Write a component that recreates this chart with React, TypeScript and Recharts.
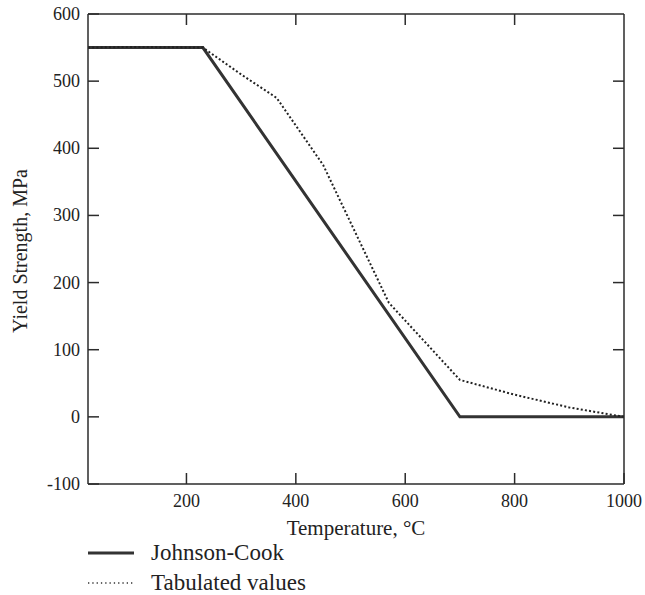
import React from "react";
import { LineChart, Line, XAxis, YAxis, Legend } from "recharts";

const jcTemps = [20, 230, 700, 1000];
const jcYield = [550, 550, 0, 0];

const tabTemps = [20, 100, 230, 300, 365, 450, 570, 700, 800, 900, 1000];
const tabYield = [550, 551, 550, 510, 475, 375, 170, 55, 33, 14, 0];

const xTicks = [200, 400, 600, 800, 1000];
const xTopTicks = [200, 400, 600, 800];
const yTicks = [-100, 0, 100, 200, 300, 400, 500, 600];
const yRightTicks = [100, 200, 300, 400, 500];

const seriesNames = ["Johnson-Cook", "Tabulated values"];

const jcData = jcTemps.map((t, i) => ({ t, y: jcYield[i] }));
const tabData = tabTemps.map((t, i) => ({ t, y: tabYield[i] }));

const FONT = "'Liberation Serif', 'Times New Roman', serif";
const AXIS = "#2b2b2b";
const TEXT = "#222";
const TICK = 11;

const BottomTick = (p: any) => (
  <g>
    <line x1={p.x} x2={p.x} y1={p.y} y2={p.y - TICK} stroke={AXIS} strokeWidth={1.5} />
    <text x={p.x} y={p.y + 23} textAnchor="middle" fontFamily={FONT} fontSize={18} fill={TEXT}>
      {p.payload.value}
    </text>
  </g>
);

const TopTick = (p: any) => (
  <line x1={p.x} x2={p.x} y1={p.y} y2={p.y + TICK} stroke={AXIS} strokeWidth={1.5} />
);

const LeftTick = (p: any) => (
  <g>
    <line x1={p.x} x2={p.x + TICK} y1={p.y} y2={p.y} stroke={AXIS} strokeWidth={1.5} />
    <text x={p.x - 8} y={p.y} textAnchor="end" dominantBaseline="central" fontFamily={FONT} fontSize={18} fill={TEXT}>
      {p.payload.value}
    </text>
  </g>
);

const RightTick = (p: any) => (
  <line x1={p.x} x2={p.x - TICK} y1={p.y} y2={p.y} stroke={AXIS} strokeWidth={1.5} />
);

const LegendContent = () => (
  <div style={{ height: 60, position: "relative", fontFamily: FONT, fontSize: 23, color: TEXT }}>
    <div style={{ position: "absolute", top: 5, left: 0, display: "flex", alignItems: "center", height: 26, whiteSpace: "nowrap" }}>
      <svg width={48} height={10}>
        <line x1={0} x2={46} y1={5} y2={5} stroke="#333" strokeWidth={3} />
      </svg>
      <span style={{ marginLeft: 15, lineHeight: "26px" }}>{seriesNames[0]}</span>
    </div>
    <div style={{ position: "absolute", top: 35, left: 0, display: "flex", alignItems: "center", height: 26, whiteSpace: "nowrap" }}>
      <svg width={48} height={10}>
        <line x1={0} x2={46} y1={5} y2={5} stroke="#333" strokeWidth={1.3} strokeDasharray="1.3 3" />
      </svg>
      <span style={{ marginLeft: 15, lineHeight: "26px" }}>{seriesNames[1]}</span>
    </div>
  </div>
);

const YLabel = (props: any) => {
  const vb = props.viewBox || { x: 8, y: 14, width: 80, height: 470 };
  const cx = 20;
  const cy = vb.y + vb.height / 2 + 2;
  return (
    <text
      x={cx}
      y={cy}
      transform={`rotate(-90 ${cx} ${cy})`}
      textAnchor="middle"
      dominantBaseline="central"
      fontFamily={FONT}
      fontSize={20}
      fill={TEXT}
    >
      Yield Strength, MPa
    </text>
  );
};

export default function App() {
  return (
    <div style={{ width: 645, height: 595, overflow: "hidden" }}>
      <style>{"html,body{margin:0;padding:0;overflow:hidden;}"}</style>
      <LineChart width={645} height={595} margin={{ top: 13, right: 20, left: 8, bottom: 0 }}>
        <XAxis
          xAxisId="b"
          dataKey="t"
          type="number"
          domain={[20, 1000]}
          ticks={xTicks}
          allowDataOverflow
          height={51}
          tickSize={0}
          tickMargin={0}
          tickLine={false}
          stroke={AXIS}
          strokeWidth={1.5}
          tick={<BottomTick />}
          label={{ value: "Temperature, \u00B0C", position: "insideBottom", offset: 0, fontFamily: FONT, fontSize: 21, fill: TEXT }}
        />
        <XAxis
          xAxisId="t"
          orientation="top"
          dataKey="t"
          type="number"
          domain={[20, 1000]}
          ticks={xTopTicks}
          allowDataOverflow
          height={1}
          tickSize={0}
          tickMargin={0}
          tickLine={false}
          tick={<TopTick />}
          stroke={AXIS}
          strokeWidth={1.5}
        />
        <YAxis
          yAxisId="l"
          type="number"
          domain={[-100, 600]}
          ticks={yTicks}
          allowDataOverflow
          width={80}
          tickSize={0}
          tickMargin={0}
          tickLine={false}
          stroke={AXIS}
          strokeWidth={1.5}
          tick={<LeftTick />}
          label={<YLabel />}
        />
        <YAxis
          yAxisId="r"
          orientation="right"
          type="number"
          domain={[-100, 600]}
          ticks={yRightTicks}
          allowDataOverflow
          width={1}
          tickSize={0}
          tickMargin={0}
          tickLine={false}
          tick={<RightTick />}
          stroke={AXIS}
          strokeWidth={1.5}
        />
        <Line
          xAxisId="b"
          yAxisId="l"
          data={jcData}
          dataKey="y"
          name={seriesNames[0]}
          stroke="#333"
          strokeWidth={3}
          dot={false}
          isAnimationActive={false}
          type="linear"
        />
        <Line
          xAxisId="b"
          yAxisId="l"
          data={tabData}
          dataKey="y"
          name={seriesNames[1]}
          stroke="#222"
          strokeWidth={2}
          strokeDasharray="2 2.2"
          dot={false}
          isAnimationActive={false}
          type="linear"
        />
        <Legend
          layout="horizontal"
          verticalAlign="bottom"
          align="left"
          height={60}
          wrapperStyle={{ left: 88, bottom: 0, width: 400 }}
          content={<LegendContent />}
        />
      </LineChart>
    </div>
  );
}
